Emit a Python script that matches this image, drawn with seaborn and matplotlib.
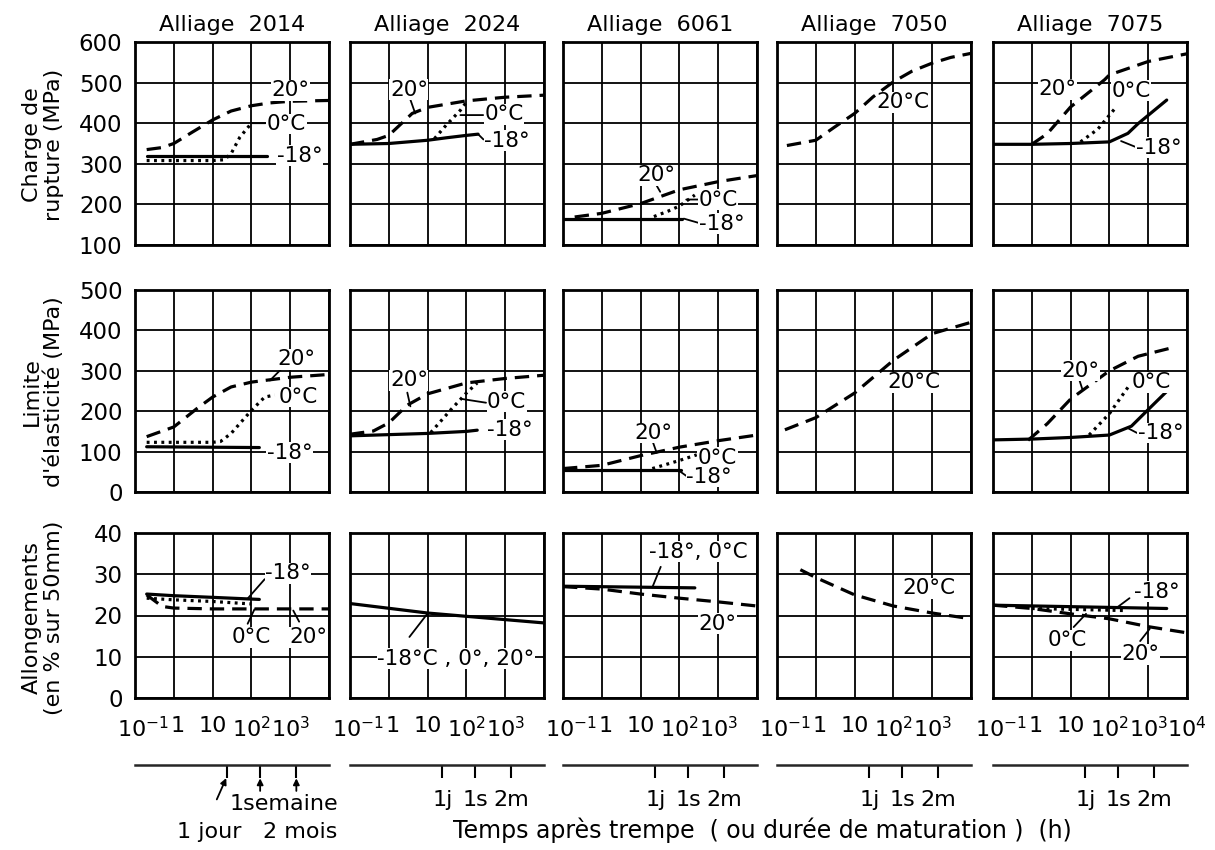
import pandas as pd
import seaborn as sns
import matplotlib.pyplot as plt
from matplotlib import transforms

alloys = ['2014', '2024', '6061', '7050', '7075']
props = ['rm', 're', 'a']

# --- Charge de rupture (MPa); times in hours ---
rm_2014_20_t = [0.2, 0.5, 1, 3, 10, 30, 100, 300, 1000, 10000]
rm_2014_20 = [335, 340, 350, 378, 408, 430, 443, 450, 454, 456]
rm_2014_0_t = [0.2, 1, 10, 20, 30, 50, 100]
rm_2014_0 = [308, 308, 308, 310, 325, 365, 400]
rm_2014_m18_t = [0.2, 250]
rm_2014_m18 = [318, 318]

rm_2024_20_t = [0.1, 0.5, 1, 4, 10, 100, 1000, 10000]
rm_2024_20 = [348, 360, 370, 424, 439, 455, 464, 469]
rm_2024_0_t = [15, 30, 70, 100]
rm_2024_0 = [362, 395, 432, 452]
rm_2024_m18_t = [0.1, 1, 10, 30, 100, 200]
rm_2024_m18 = [348, 350, 358, 364, 370, 373]

rm_6061_20_t = [0.2, 1, 10, 100, 1000, 10000]
rm_6061_20 = [169, 178, 202, 236, 256, 271]
rm_6061_0_t = [22, 50, 100, 250]
rm_6061_0 = [170, 183, 196, 223]
rm_6061_m18_t = [0.1, 120]
rm_6061_m18 = [165, 165]

rm_7050_20_t = [0.18, 1, 3, 10, 30, 100, 300, 1000, 3000, 10000]
rm_7050_20 = [345, 358, 390, 424, 465, 502, 528, 548, 562, 572]

rm_7075_20_t = [1, 2.5, 10, 75, 100, 1000, 10000]
rm_7075_20 = [348, 374, 440, 507, 519, 552, 571]
rm_7075_0_t = [18, 50, 150]
rm_7075_0 = [354, 385, 440]
rm_7075_m18_t = [0.1, 1, 10, 100, 300, 550, 3000]
rm_7075_m18 = [348, 348, 350, 354, 375, 399, 457]

# --- Limite d'elasticite (MPa) ---
re_2014_20_t = [0.2, 1, 4, 10, 30, 100, 1000, 10000]
re_2014_20 = [137, 161, 207, 235, 260, 272, 284, 291]
re_2014_0_t = [0.2, 1, 10, 16, 30, 100, 220, 400]
re_2014_0 = [123, 123, 123, 125, 145, 202, 235, 240]
re_2014_m18_t = [0.2, 160]
re_2014_m18 = [112, 110]

re_2024_20_t = [0.1, 0.4, 1, 3, 10, 100, 1000, 10000]
re_2024_20 = [143, 151, 171, 215, 243, 270, 281, 289]
re_2024_0_t = [12, 40, 100, 190]
re_2024_0 = [147, 204, 245, 270]
re_2024_m18_t = [0.1, 1, 10, 100, 190]
re_2024_m18 = [139, 142, 145, 150, 153]

re_6061_20_t = [0.1, 1, 10, 100, 1000, 10000]
re_6061_20 = [58, 66, 90, 111, 127, 141]
re_6061_0_t = [20, 100, 280]
re_6061_0 = [58, 78, 92]
re_6061_m18_t = [0.1, 110]
re_6061_m18 = [55, 55]

re_7050_20_t = [0.16, 1, 10, 100, 1000, 10000]
re_7050_20 = [154, 184, 245, 326, 392, 420]

re_7075_20_t = [0.8, 2.5, 10, 100, 550, 4500]
re_7075_20 = [128, 169, 230, 300, 336, 358]
re_7075_0_t = [30, 100, 300]
re_7075_0 = [141, 194, 259]
re_7075_m18_t = [0.1, 1, 10, 100, 370, 1000, 3000]
re_7075_m18 = [129, 131, 135, 141, 163, 204, 249]

# --- Allongements (% sur 50 mm) ---
a_2014_20_t = [0.2, 0.5, 1, 10, 100, 1000, 10000]
a_2014_20 = [25, 22.2, 21.8, 21.6, 21.6, 21.6, 21.6]
a_2014_0_t = [0.2, 1, 10, 100]
a_2014_0 = [24.2, 23.8, 23.4, 22.8]
a_2014_m18_t = [0.2, 1, 10, 160]
a_2014_m18 = [25.2, 24.8, 24.4, 23.9]

a_2024_all_t = [0.1, 10, 100, 10000]
a_2024_all = [22.9, 20.6, 19.8, 18.2]

a_6061_20_t = [0.1, 1, 10, 100, 1000, 10000]
a_6061_20 = [27, 26.4, 25.2, 24.2, 23.3, 22.3]
a_6061_m18_t = [0.1, 250]
a_6061_m18 = [27.1, 26.7]

a_7050_20_t = [0.4, 1, 10, 100, 1000, 10000]
a_7050_20 = [31.1, 29.2, 25, 22.3, 20.6, 19.2]

a_7075_20_t = [0.1, 1, 10, 100, 1000, 10000]
a_7075_20 = [22.5, 21.7, 20.4, 19.2, 17.3, 15.8]
a_7075_0_t = [1, 250]
a_7075_0 = [21.7, 21.2]
a_7075_m18_t = [0.1, 3000]
a_7075_m18 = [22.5, 21.7]

curves = [
    ('rm', '2014', '20', rm_2014_20_t, rm_2014_20), ('rm', '2014', '0', rm_2014_0_t, rm_2014_0),
    ('rm', '2014', '-18', rm_2014_m18_t, rm_2014_m18),
    ('rm', '2024', '20', rm_2024_20_t, rm_2024_20), ('rm', '2024', '0', rm_2024_0_t, rm_2024_0),
    ('rm', '2024', '-18', rm_2024_m18_t, rm_2024_m18),
    ('rm', '6061', '20', rm_6061_20_t, rm_6061_20), ('rm', '6061', '0', rm_6061_0_t, rm_6061_0),
    ('rm', '6061', '-18', rm_6061_m18_t, rm_6061_m18),
    ('rm', '7050', '20', rm_7050_20_t, rm_7050_20),
    ('rm', '7075', '20', rm_7075_20_t, rm_7075_20), ('rm', '7075', '0', rm_7075_0_t, rm_7075_0),
    ('rm', '7075', '-18', rm_7075_m18_t, rm_7075_m18),
    ('re', '2014', '20', re_2014_20_t, re_2014_20), ('re', '2014', '0', re_2014_0_t, re_2014_0),
    ('re', '2014', '-18', re_2014_m18_t, re_2014_m18),
    ('re', '2024', '20', re_2024_20_t, re_2024_20), ('re', '2024', '0', re_2024_0_t, re_2024_0),
    ('re', '2024', '-18', re_2024_m18_t, re_2024_m18),
    ('re', '6061', '20', re_6061_20_t, re_6061_20), ('re', '6061', '0', re_6061_0_t, re_6061_0),
    ('re', '6061', '-18', re_6061_m18_t, re_6061_m18),
    ('re', '7050', '20', re_7050_20_t, re_7050_20),
    ('re', '7075', '20', re_7075_20_t, re_7075_20), ('re', '7075', '0', re_7075_0_t, re_7075_0),
    ('re', '7075', '-18', re_7075_m18_t, re_7075_m18),
    ('a', '2014', '20', a_2014_20_t, a_2014_20), ('a', '2014', '0', a_2014_0_t, a_2014_0),
    ('a', '2014', '-18', a_2014_m18_t, a_2014_m18),
    ('a', '2024', '-18', a_2024_all_t, a_2024_all),
    ('a', '6061', '20', a_6061_20_t, a_6061_20), ('a', '6061', '-18', a_6061_m18_t, a_6061_m18),
    ('a', '7050', '20', a_7050_20_t, a_7050_20),
    ('a', '7075', '20', a_7075_20_t, a_7075_20), ('a', '7075', '0', a_7075_0_t, a_7075_0),
    ('a', '7075', '-18', a_7075_m18_t, a_7075_m18),
]

rows = []
for prop, alloy, temp, ts, vs in curves:
    for t, v in zip(ts, vs):
        rows.append({'prop': prop, 'alloy': alloy, 'temp': temp, 't': t, 'v': v})
df = pd.DataFrame(rows)

# curve labels: (prop, alloy, text, t, v, ha, leader)
notes = [
    ('rm', '2014', '20°', 1000, 481, 'center', None),
    ('rm', '2014', '0°C', 250, 398, 'left', ((100, 400), (230, 400))),
    ('rm', '2014', '-18°', 450, 320, 'left', None),
    ('rm', '2024', '20°', 3.3, 482, 'center', ((3.6, 458), (4.8, 424))),
    ('rm', '2024', '0°C', 290, 422, 'left', ((70, 420), (270, 420))),
    ('rm', '2024', '-18°', 290, 357, 'left', ((200, 373), (275, 360))),
    ('rm', '6061', '20°', 26, 272, 'center', ((24, 252), (32, 231))),
    ('rm', '6061', '0°C', 316, 212, 'left', ((150, 212), (300, 212))),
    ('rm', '6061', '-18°', 316, 152, 'left', ((130, 165), (300, 155))),
    ('rm', '7050', '20°C', 180, 451, 'center', None),
    ('rm', '7075', '20°', 4.6, 484, 'center', ((7, 478), (10, 462))),
    ('rm', '7075', '0°C', 360, 480, 'center', None),
    ('rm', '7075', '-18°', 480, 340, 'left', ((200, 356), (460, 342))),
    ('re', '2014', '20°', 1450, 328, 'center', ((300, 276), (600, 305))),
    ('re', '2014', '0°C', 500, 235, 'left', None),
    ('re', '2014', '-18°', 250, 97, 'left', None),
    ('re', '2024', '20°', 3.3, 276, 'center', ((3.0, 246), (3.6, 212))),
    ('re', '2024', '0°C', 340, 223, 'left', ((80, 230), (320, 221))),
    ('re', '2024', '-18°', 340, 154, 'left', None),
    ('re', '6061', '20°', 21, 146, 'center', ((21, 122), (26, 97))),
    ('re', '6061', '0°C', 300, 85, 'left', None),
    ('re', '6061', '-18°', 150, 37, 'left', ((100, 52), (150, 40))),
    ('re', '7050', '20°C', 330, 272, 'center', None),
    ('re', '7075', '20°', 18, 300, 'center', ((17, 276), (20, 255))),
    ('re', '7075', '0°C', 1200, 272, 'center', None),
    ('re', '7075', '-18°', 540, 146, 'left', ((300, 158), (520, 146))),
    ('a', '2014', '-18°', 230, 30.2, 'left', ((80, 24.1), (220, 28.8))),
    ('a', '2014', '0°C', 100, 14.7, 'center', ((80, 18), (120, 21.5))),
    ('a', '2014', '20°', 2950, 14.7, 'center', ((1200, 21.2), (1700, 18.5))),
    ('a', '2024', '-18°C , 0°, 20°', 54, 9.5, 'center', ((3.4, 14.8), (10, 20.5))),
    ('a', '6061', '-18°, 0°C', 316, 35.5, 'center', ((20, 26.8), (33, 31.8))),
    ('a', '6061', '20°', 950, 18, 'center', None),
    ('a', '7050', '20°C', 830, 26.6, 'center', None),
    ('a', '7075', '-18°', 1660, 25.8, 'center', ((150, 21.8), (330, 24.2))),
    ('a', '7075', '0°C', 8, 14, 'center', ((12, 17.2), (25, 20.4))),
    ('a', '7075', '20°', 620, 10.6, 'center', ((620, 13.8), (1100, 16.8))),
]

ylims = {'rm': (100, 600), 're': (0, 500), 'a': (0, 40)}
ysteps = {'rm': 100, 're': 100, 'a': 10}
ylabels = {'rm': 'Charge de\nrupture (MPa)', 're': "Limite\nd'élasticité (MPa)",
           'a': 'Allongements\n(en % sur 50mm)'}
dash_map = {'20': (4.5, 2.5), '0': (0.9, 1.4), '-18': ''}
decades = [0.1, 1, 10, 100, 1000, 10000]
marks = [24, 168, 1440]

sns.set_style('white')
plt.rcParams['font.family'] = ['DejaVu Sans']
plt.rcParams['font.size'] = 15
for key in ['text.color', 'axes.labelcolor', 'xtick.color', 'ytick.color']:
    plt.rcParams[key] = 'black'

W, H = 1215, 850
fig = plt.figure(figsize=(W / 100, H / 100), dpi=100)
col_left = [135, 350, 563, 777, 993]
col_w = 194
row_box = [(42, 245), (290, 492), (533, 698)]

for r, prop in enumerate(props):
    top, bot = row_box[r]
    for c, alloy in enumerate(alloys):
        ax = fig.add_axes([col_left[c] / W, 1 - bot / H, col_w / W, (bot - top) / H])
        ax.set_xscale('log')
        sub = df[(df.prop == prop) & (df.alloy == alloy)]
        sns.lineplot(data=sub, x='t', y='v', style='temp', dashes=dash_map,
                     color='black', linewidth=2.3, estimator=None, sort=True,
                     legend=False, ax=ax)
        ax.set_xlim(0.1, 10000)
        lo, hi = ylims[prop]
        ax.set_ylim(lo, hi)
        ax.set_yticks(range(lo, hi + 1, ysteps[prop]))
        ax.set_xticks(decades)
        ax.set_xticks(marks if prop == 'a' else [], minor=True)
        ax.grid(True, which='major', color='black', linewidth=1.3)
        for s in ax.spines.values():
            s.set_linewidth(2)
            s.set_color('black')
        ax.set_xlabel('')
        ax.set_ylabel('')
        if c == 0:
            ax.tick_params(axis='y', direction='out', length=7, width=1.5, labelsize=16.5, pad=2)
        else:
            ax.tick_params(axis='y', length=0, labelleft=False)
        if prop == 'a':
            ax.tick_params(axis='x', which='major', direction='out', length=10, width=1.5,
                           labelsize=16, pad=3)
            ax.tick_params(axis='x', which='minor', direction='in', length=7, width=1.5)
            labs = ['$10^{-1}$', '1', '10', '$10^2$', '$10^3$', '$10^4$' if c == 4 else '']
            ax.set_xticklabels(labs)
            ax.xaxis.set_minor_formatter(plt.NullFormatter())
            tl = ax.get_xticklabels()
            tl[0].set_transform(tl[0].get_transform() +
                                transforms.ScaledTranslation(0.08, 0, fig.dpi_scale_trans))
            tl[1].set_transform(tl[1].get_transform() +
                                transforms.ScaledTranslation(0.04, 0, fig.dpi_scale_trans))
            sec = ax.secondary_xaxis(-0.406)
            sec.set_xticks(marks)
            sec.set_xticklabels(['1j', '1s', '2m'] if c > 0 else ['', '', ''])
            sec.tick_params(direction='out', length=9, width=1.5, labelsize=16, pad=9)
            sec.spines['bottom'].set_linewidth(1.8)
            if c == 0:
                xy = ('data', 'axes fraction')
                arw = dict(arrowstyle='-|>', color='black', lw=1.3, mutation_scale=9)
                ax.annotate('', xy=(24, -0.47), xytext=(12, -0.63), xycoords=xy,
                            textcoords=xy, arrowprops=arw)
                ax.annotate('', xy=(168, -0.47), xytext=(168, -0.58), xycoords=xy,
                            textcoords=xy, arrowprops=arw)
                ax.annotate('', xy=(1440, -0.47), xytext=(1440, -0.58), xycoords=xy,
                            textcoords=xy, arrowprops=arw)
                ax.annotate('1semaine', xy=(680, -0.64), xycoords=xy, ha='center',
                            va='center', fontsize=16, annotation_clip=False)
                ax.annotate('1 jour', xy=(8, -0.81), xycoords=xy, ha='center',
                            va='center', fontsize=16, annotation_clip=False)
                ax.annotate('2 mois', xy=(1820, -0.81), xycoords=xy, ha='center',
                            va='center', fontsize=16, annotation_clip=False)
        else:
            ax.tick_params(axis='x', which='both', length=0, labelbottom=False)
        if r == 0:
            ax.set_title('Alliage  ' + alloy, fontsize=16, pad=8)
        for p, a, txt, t, v, ha, lead in notes:
            if p != prop or a != alloy:
                continue
            if lead is not None:
                ax.annotate('', xy=lead[1], xytext=lead[0],
                            arrowprops=dict(arrowstyle='-', color='black', lw=1.3,
                                            shrinkA=0, shrinkB=0))
            ax.text(t, v, txt, ha=ha, va='center', fontsize=15.5,
                    bbox=dict(fc='white', ec='none', pad=0.3))

fig.text(43 / W, 1 - 145 / H, ylabels['rm'], rotation=90, ha='center', va='center',
         ma='center', fontsize=16, linespacing=1.1)
fig.text(43 / W, 1 - 392 / H, ylabels['re'], rotation=90, ha='center', va='center',
         ma='center', fontsize=16, linespacing=1.1)
fig.text(43 / W, 1 - 618 / H, ylabels['a'], rotation=90, ha='center', va='center',
         ma='center', fontsize=16, linespacing=1.1)
fig.text(762 / W, 1 - 830 / H, 'Temps après trempe  ( ou durée de maturation )  (h)',
         ha='center', va='center', fontsize=17)

fig.savefig('out.png', dpi=100, facecolor='white')
